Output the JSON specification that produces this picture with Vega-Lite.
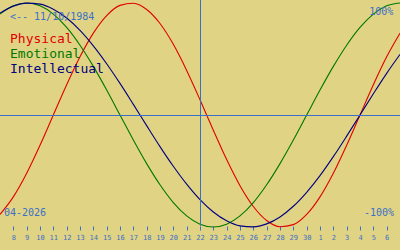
{
  "$schema": "https://vega.github.io/schema/vega-lite/v6.json",
  "width": 400,
  "height": 250,
  "padding": 0,
  "autosize": "none",
  "background": "#e1d384",
  "config": {"view": {"stroke": null}, "font": "DejaVu Sans Mono"},
  "datasets": {
    "curves": [
      {"series":"Physical","x":0,"y":-0.888},{"series":"Physical","x":1,"y":-0.731},{"series":"Physical","x":2,"y":-0.520},{"series":"Physical","x":3,"y":-0.270},{"series":"Physical","x":4,"y":0},{"series":"Physical","x":5,"y":0.270},{"series":"Physical","x":6,"y":0.520},{"series":"Physical","x":7,"y":0.731},{"series":"Physical","x":8,"y":0.888},{"series":"Physical","x":9,"y":0.979},{"series":"Physical","x":10,"y":0.998},{"series":"Physical","x":11,"y":0.942},{"series":"Physical","x":12,"y":0.817},{"series":"Physical","x":13,"y":0.631},{"series":"Physical","x":14,"y":0.398},{"series":"Physical","x":15,"y":0.136},{"series":"Physical","x":16,"y":-0.136},{"series":"Physical","x":17,"y":-0.398},{"series":"Physical","x":18,"y":-0.631},{"series":"Physical","x":19,"y":-0.817},{"series":"Physical","x":20,"y":-0.942},{"series":"Physical","x":21,"y":-0.998},{"series":"Physical","x":22,"y":-0.979},{"series":"Physical","x":23,"y":-0.888},{"series":"Physical","x":24,"y":-0.731},{"series":"Physical","x":25,"y":-0.520},{"series":"Physical","x":26,"y":-0.270},{"series":"Physical","x":27,"y":0},{"series":"Physical","x":28,"y":0.270},{"series":"Physical","x":29,"y":0.520},{"series":"Physical","x":30,"y":0.731},
      {"series":"Emotional","x":0,"y":0.901},{"series":"Emotional","x":1,"y":0.975},{"series":"Emotional","x":2,"y":1},{"series":"Emotional","x":3,"y":0.975},{"series":"Emotional","x":4,"y":0.901},{"series":"Emotional","x":5,"y":0.782},{"series":"Emotional","x":6,"y":0.623},{"series":"Emotional","x":7,"y":0.434},{"series":"Emotional","x":8,"y":0.223},{"series":"Emotional","x":9,"y":0},{"series":"Emotional","x":10,"y":-0.223},{"series":"Emotional","x":11,"y":-0.434},{"series":"Emotional","x":12,"y":-0.623},{"series":"Emotional","x":13,"y":-0.782},{"series":"Emotional","x":14,"y":-0.901},{"series":"Emotional","x":15,"y":-0.975},{"series":"Emotional","x":16,"y":-1},{"series":"Emotional","x":17,"y":-0.975},{"series":"Emotional","x":18,"y":-0.901},{"series":"Emotional","x":19,"y":-0.782},{"series":"Emotional","x":20,"y":-0.623},{"series":"Emotional","x":21,"y":-0.434},{"series":"Emotional","x":22,"y":-0.223},{"series":"Emotional","x":23,"y":0},{"series":"Emotional","x":24,"y":0.223},{"series":"Emotional","x":25,"y":0.434},{"series":"Emotional","x":26,"y":0.623},{"series":"Emotional","x":27,"y":0.782},{"series":"Emotional","x":28,"y":0.901},{"series":"Emotional","x":29,"y":0.975},{"series":"Emotional","x":30,"y":1},
      {"series":"Intellectual","x":0,"y":0.910},{"series":"Intellectual","x":1,"y":0.972},{"series":"Intellectual","x":2,"y":0.999},{"series":"Intellectual","x":3,"y":0.990},{"series":"Intellectual","x":4,"y":0.945},{"series":"Intellectual","x":5,"y":0.866},{"series":"Intellectual","x":6,"y":0.756},{"series":"Intellectual","x":7,"y":0.618},{"series":"Intellectual","x":8,"y":0.458},{"series":"Intellectual","x":9,"y":0.282},{"series":"Intellectual","x":10,"y":0.095},{"series":"Intellectual","x":11,"y":-0.095},{"series":"Intellectual","x":12,"y":-0.282},{"series":"Intellectual","x":13,"y":-0.458},{"series":"Intellectual","x":14,"y":-0.618},{"series":"Intellectual","x":15,"y":-0.756},{"series":"Intellectual","x":16,"y":-0.866},{"series":"Intellectual","x":17,"y":-0.945},{"series":"Intellectual","x":18,"y":-0.990},{"series":"Intellectual","x":19,"y":-0.999},{"series":"Intellectual","x":20,"y":-0.972},{"series":"Intellectual","x":21,"y":-0.910},{"series":"Intellectual","x":22,"y":-0.815},{"series":"Intellectual","x":23,"y":-0.690},{"series":"Intellectual","x":24,"y":-0.541},{"series":"Intellectual","x":25,"y":-0.372},{"series":"Intellectual","x":26,"y":-0.189},{"series":"Intellectual","x":27,"y":0},{"series":"Intellectual","x":28,"y":0.189},{"series":"Intellectual","x":29,"y":0.372},{"series":"Intellectual","x":30,"y":0.541}
    ],
    "names": [
      {"series":"Physical","x":0.75,"y":0.643},
      {"series":"Emotional","x":0.75,"y":0.509},
      {"series":"Intellectual","x":0.75,"y":0.375}
    ],
    "leftnotes": [
      {"text":"<-- 11/10/1984","x":0.75,"y":0.848},
      {"text":"04-2026","x":0.3,"y":-0.902}
    ],
    "rightnotes": [
      {"text":"100%","x":29.5,"y":0.893},
      {"text":"-100%","x":29.55,"y":-0.902}
    ]
  },
  "encoding": {
    "x": {"field": "x", "type": "quantitative", "scale": {"domain": [0, 30], "nice": false, "zero": false},
      "axis": {
        "values": [1,2,3,4,5,6,7,8,9,10,11,12,13,14,15,16,17,18,19,20,21,22,23,24,25,26,27,28,29],
        "labelExpr": "(datum.value <= 23 ? datum.value + 7 : datum.value - 23) + ((datum.value < 3 || datum.value > 23) ? '\u00a0' : '')",
        "title": null, "grid": false, "domain": false,
        "offset": -24, "tickSize": 4, "tickColor": "#3a70c8", "tickWidth": 1,
        "labelColor": "#3a70c8", "labelFontSize": 7, "labelFont": "DejaVu Sans Mono",
        "labelPadding": 3, "labelOverlap": false, "labelFlush": false, "labelBound": false
      }
    },
    "y": {"field": "y", "type": "quantitative", "scale": {"domain": [-1.2054, 1.0268], "nice": false, "zero": false}, "axis": null}
  },
  "layer": [
    {
      "data": {"name": "curves"},
      "mark": {"type": "line", "strokeWidth": 1.1, "interpolate": "monotone"},
      "encoding": {
        "color": {"field": "series", "type": "nominal", "scale": {"domain": ["Physical","Emotional","Intellectual"], "range": ["#e00000","#007800","#000080"]}, "legend": null}
      }
    },
    {
      "data": {"values": [{"x": 0, "y": -0.0045}, {"x": 30, "y": -0.0045}]},
      "mark": {"type": "line", "color": "#3a70c8", "strokeWidth": 1}
    },
    {
      "data": {"values": [{"x": 15.0375, "y": 1.0268}, {"x": 15.0375, "y": -0.99}]},
      "mark": {"type": "line", "color": "#3a70c8", "strokeWidth": 1}
    },
    {
      "data": {"name": "names"},
      "mark": {"type": "text", "align": "left", "baseline": "alphabetic", "fontSize": 13, "font": "DejaVu Sans Mono"},
      "encoding": {
        "text": {"field": "series"},
        "color": {"field": "series", "type": "nominal", "legend": null}
      }
    },
    {
      "data": {"name": "leftnotes"},
      "mark": {"type": "text", "align": "left", "baseline": "alphabetic", "fontSize": 10, "font": "DejaVu Sans Mono", "color": "#3a70c8"},
      "encoding": {"text": {"field": "text"}}
    },
    {
      "data": {"name": "rightnotes"},
      "mark": {"type": "text", "align": "right", "baseline": "alphabetic", "fontSize": 10, "font": "DejaVu Sans Mono", "color": "#3a70c8"},
      "encoding": {"text": {"field": "text"}}
    }
  ]
}
